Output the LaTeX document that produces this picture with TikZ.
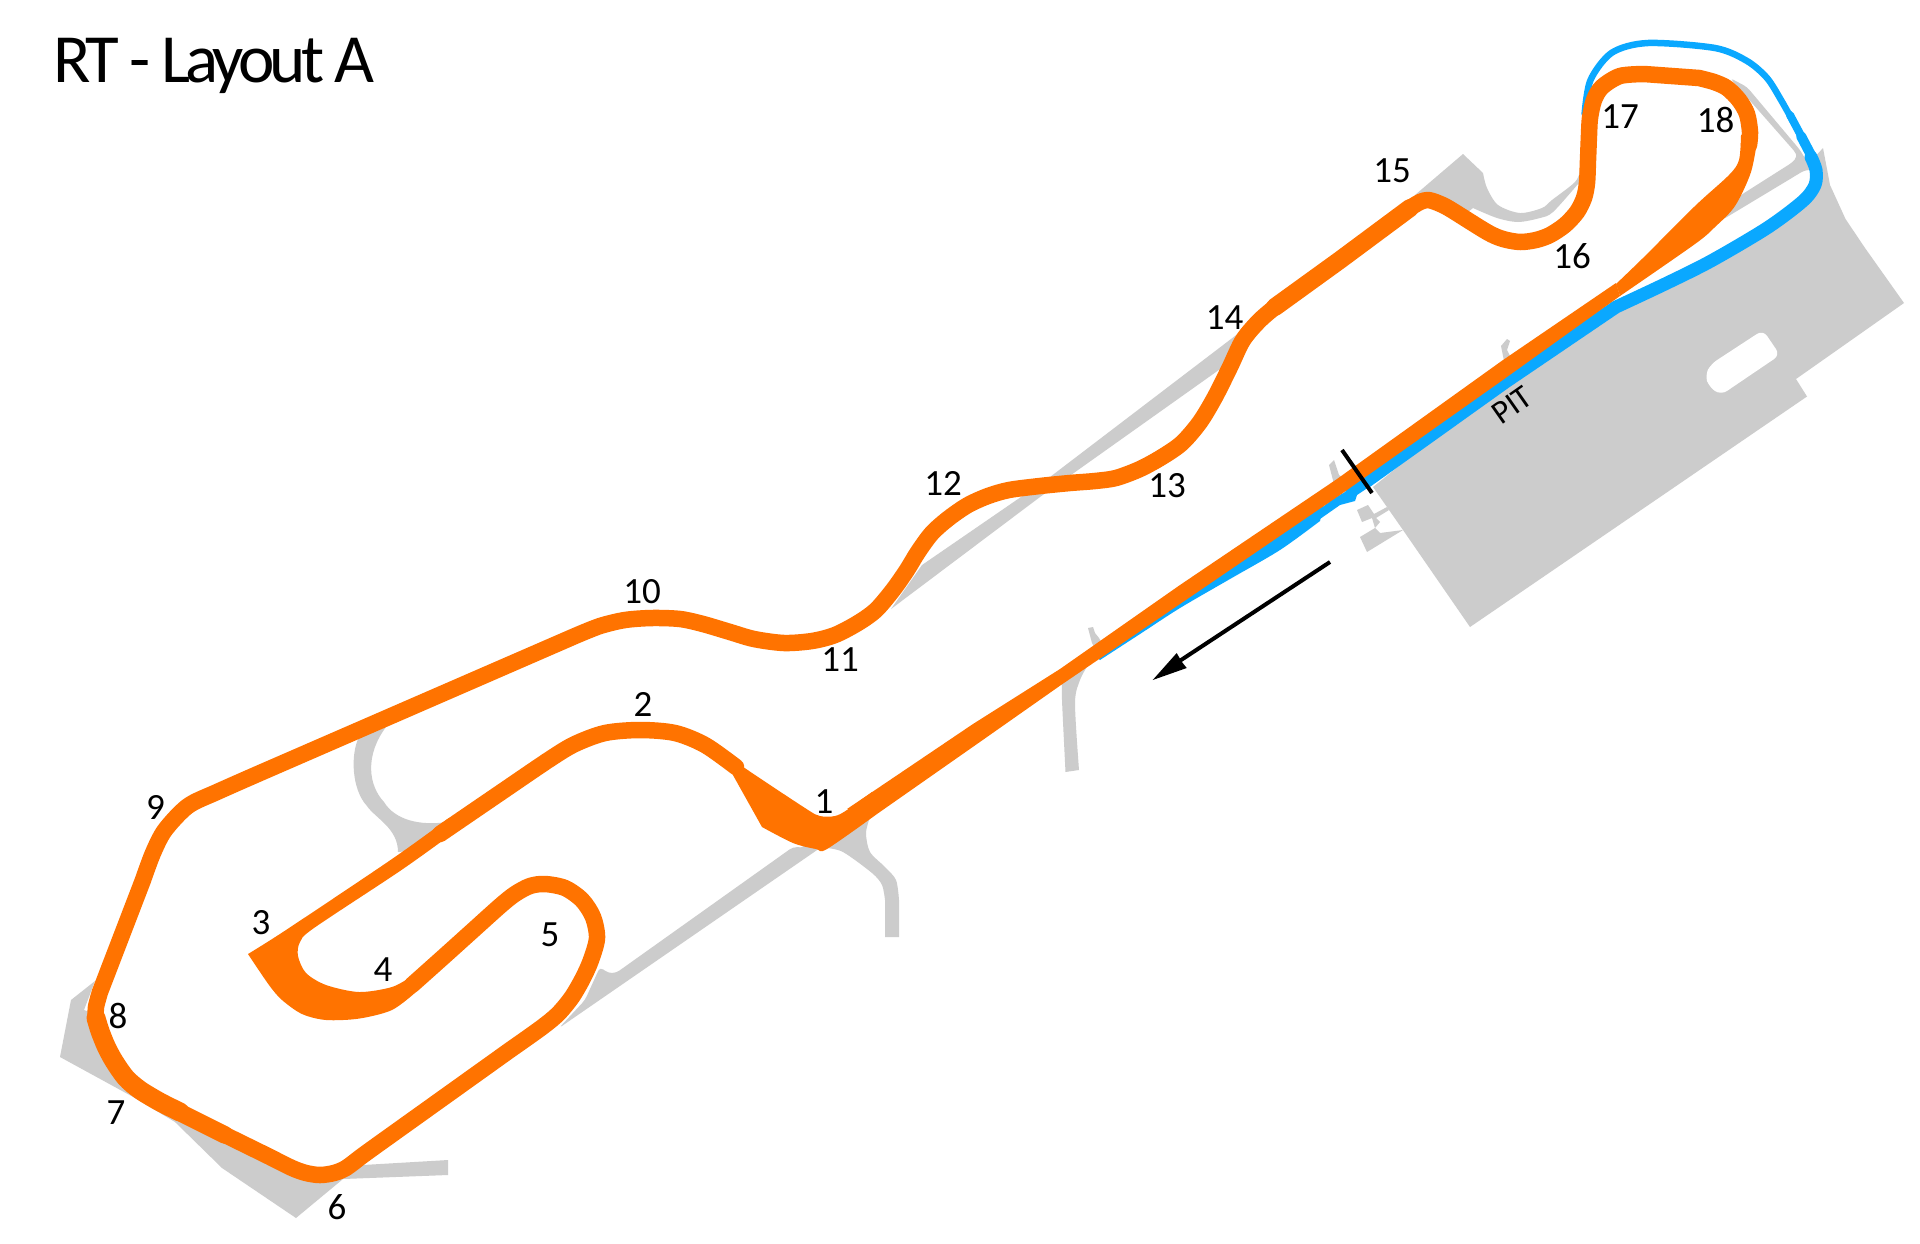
\documentclass[tikz,border=0pt]{standalone}
\usepackage{fontspec}
\setmainfont{Carlito}
\definecolor{trk}{HTML}{FF7300}
\definecolor{pit}{HTML}{0AA8FF}
\definecolor{pad}{HTML}{CCCCCC}
\begin{document}
\begin{tikzpicture}[x=1pt,y=-1pt,
  grey/.style={fill=pad,draw=none},
  roadl/.style={fill=pad,draw=none,rounded corners=4pt},
  orng/.style={draw=trk,line join=round,line cap=round},
  org/.style={fill=trk,draw=none},
  blu/.style={draw=pit,line join=round,line cap=round},
  lab/.style={font=\fontsize{37}{37}\selectfont,inner sep=0pt,text=black,yshift=-1pt}]
\useasboundingbox (0,0) rectangle (1920,1243);
\fill[white] (0,0) rectangle (1920,1243);
% --- grey
\fill[grey] (1373,487) -- (1403,530) -- (1380,533) -- (1375,528) -- (1360,537) -- (1367,552) -- (1403,530) -- (1470,627) -- (1807,396.5) -- (1796,379) -- (1904,303) -- (1865,248) -- (1845.5,219) -- (1830,185) -- (1823,148) -- (1812,160) -- (1817,185) -- (1803,203) -- (1711,261) -- (1616,307) -- (1505,380) -- cycle;
\fill[white,rounded corners=7pt] (1763,330) -- (1780,355) -- (1721,395) -- (1709,387) -- (1705,375) -- (1711,364) -- cycle;
\fill[grey] (1357,510) -- (1368,505) -- (1374,514) -- (1387,507) -- (1389,510) -- (1376,518) -- (1380,522) -- (1375,528) -- (1372,518) -- (1362,522) -- cycle;
\fill[roadl] (1730,78) -- (1747,87) -- (1800,150) -- (1812,170) -- (1805,170) -- (1722,220) -- (1735,200) -- (1741,195) -- (1793,162) -- (1797,157) -- (1796,153) -- (1752,103) -- cycle;
\fill[grey] (1415,195) -- (1463,154) -- (1483,173) -- plot[smooth] coordinates {(1483,173) (1487,188) (1498,205) (1520,213) (1542,208) (1552,200) (1575,182) (1580,170) (1581,155)} -- (1590,155) -- (1585,190) -- plot[smooth] coordinates {(1578,184) (1553,212) (1540,218) (1518,222) (1497,218) (1473,208)} -- (1468,212) -- (1440,210) -- (1426,205) -- cycle;
\fill[grey] (1329,465) -- (1334,460) -- (1339,475) -- (1346,480) -- (1334,484) -- cycle;
\fill[grey] (1501,346) -- (1507,339) -- (1510,341) -- (1507,350) -- (1511,358) -- (1505,366) -- cycle;
% 12-14 chord
\fill[grey] (891,609) -- (922,565) -- (1050,477) -- (1252,323) -- (1252,340) -- (1223,367) -- (1040,497) -- cycle;
% loop road at 9-10 / 2-3
\fill[grey] (359,737) .. controls (350,755) and (352,790) .. (367,806) .. controls (375,818) and (398,828) .. (398,852) -- (420,850) -- (447,822) .. controls (420,826) and (395,820) .. (384,802) .. controls (368,785) and (365,755) .. (386,727) -- cycle;
% road 5 -> 1
\fill[roadl] (585,1000) -- (600,967) -- (608,973) -- (616,973) -- (793,847) -- (820,848) -- (559,1028) -- cycle;
% road at 1
\fill[grey] (800,848) -- (870,812) -- plot[smooth] coordinates {(870,817) (866,833) (870,852) (885,867) (896,880) (899,900)} -- (899,937) -- (885,937) -- plot[smooth] coordinates {(885,900) (882,885) (872,873) (843,852) (826,848)} -- cycle;
% road 5 at straight
\fill[grey] plot[smooth] coordinates {(1062,680) (1062,700) (1065.5,772)} -- (1079,770) -- plot[smooth] coordinates {(1079,770) (1075,703) (1080,680) (1088,665)} -- cycle;
\fill[grey] (1097,652) -- (1092,643) -- (1088,628) -- (1093,627) -- (1095,633) -- (1099,638) -- (1106,650) -- cycle;
% bottom left
\fill[grey] (95,981) -- (71,1000) -- (60,1057) -- (135,1098) -- (175,1122) -- (222,1168) -- (296,1218) -- (343,1179) -- (448,1175) -- (448,1160) -- (363,1165) -- (340,1165) -- (300,1172) -- (155,1100) -- (126,1078) -- (106,1046) -- (95,1014) -- (84,1010) -- cycle;
% --- blue
\draw[blu,line width=6.5pt] plot[smooth] coordinates {(1584.6,114) (1590.5,80) (1612,52.6) (1648,43) (1715,48) (1747,61) (1767,78) (1781,100) (1795,125)};
\draw[blu,line width=8pt] (1790,115) -- (1806,145);
\draw[blu,line width=10pt] (1801,136) -- (1812,157);
\draw[blu,line width=13pt] plot[smooth] coordinates {(1811,157) (1816,170) (1815,185) (1803,201) (1767,228) (1711,261) (1665,284) (1616,307)} -- (1505.5,382) -- (1367,481);
\fill[pit] (1320,519) -- (1340,505) -- (1355,501) -- (1357,495) -- (1372,485) -- (1360,470) -- (1345,492) -- (1333,499) -- (1320,509) -- cycle;
\fill[pit] (1325,500) -- plot[smooth] coordinates {(1320,521) (1280,550) (1230,579) (1180,608) (1140,634) (1100,660)} -- (1094,655) -- cycle;
% --- orange
\fill[org] (1616,283) -- (1501.6,361) -- (1337,479) -- (1180,585) -- (1060,669) -- (973,724) -- (847,809) -- (877,814) -- (977,744) -- (1061,685) -- (1180,604) -- (1340,495) -- (1500,382) -- (1620,296) -- cycle;
\fill[org] plot[smooth] coordinates {(716,745) (736,762) (805,808) (820,816) (835,816) (847,810) (872,792)} -- plot[smooth] coordinates {(877,814) (827,849) (816,849) (793,843) (762,827)} -- (729,768) -- cycle;
\draw[orng,line width=16.5pt] plot[smooth] coordinates {(440,834) (500,793) (550,759) (575,744) (605,733) (640,730) (675,733) (705,745) (736,767)};
\fill[org] plot[smooth] coordinates {(449,818) (392,859) (286,930) (248,954)} -- plot[smooth] coordinates {(248,954) (269,985) (282,1000) (302,1014) (326,1020) (359,1018.6) (392,1010) (416,992)} -- plot[smooth] coordinates {(412,976) (392,987) (359,992) (326,985) (306,973) (298,956) (300,942) (314,928) (400,871) (449,836)} -- cycle;
\draw[orng,line width=16.5pt] plot[smooth] coordinates {(412,985) (440,960) (470,933) (500,906) (515,894) (530,886) (545,884) (565,888) (582,900) (593,917) (597,938) (591,960) (583,978) (572,997) (558,1014) (541,1028) (510,1050)} -- (380,1143) -- plot[smooth] coordinates {(380,1143) (362,1156) (346,1168) (334,1173) (320,1175) (306,1173) (292,1168) (270,1157)} -- (215,1130);
\draw[orng,line width=17.5pt] (225,1135) -- (175,1110);
\draw[orng,line width=19pt] plot[smooth] coordinates {(180,1112) (160,1102) (140,1090) (126,1078) (114,1061) (106,1046) (100,1031) (96,1018)};
\draw[orng,line width=16.5pt] plot[smooth] coordinates {(100,1034) (96,1018) (96,1007) (100,992)} -- (143,880) -- plot[smooth] coordinates {(143,880) (153,853) (165,830) (188,806) (217,792) (260,773)} -- (575,636) -- plot[smooth] coordinates {(575,636) (600,626) (625,620) (652,618) (680,619) (703,624) (730,632) (754,639) (784,643) (812,641) (835,635) (858,623) (876,610) (893,590) (907,570) (918,552) (932,533) (949,518) (968,505) (988,496) (1009,490) (1040,486) (1070,483) (1095,481) (1116,478) (1140,469) (1162,457) (1182,443) (1200,422) (1215,397) (1230,367) (1243,340) (1260,320) (1280,303)};
\draw[orng,line width=18pt] (1275,307) -- (1340,260) -- (1410,208);
\draw[orng,line width=16.5pt] plot[smooth] coordinates {(1410,208) (1420,202) (1428,200) (1438,203) (1450,209) (1487,232) (1503,239) (1520,242) (1536,240) (1550,235) (1565,225) (1577,212) (1584,198) (1587,183) (1588,160) (1589,135) (1590,118) (1594,100) (1602,87) (1620,76) (1644,74)} -- (1699,78) -- plot[smooth] coordinates {(1699,78) (1714,82) (1727,88) (1739,100) (1747,114) (1750,132) (1749,145)};
\fill[org] plot[smooth] coordinates {(1741,135) (1739,160) (1729,175) (1695,206) (1644,257) (1616,284)} -- plot[smooth] coordinates {(1620,296) (1695,244) (1715,227) (1735,206) (1751,172) (1758,135)} -- cycle;
% --- start line and arrow
\coordinate (sa) at (1342,450); \coordinate (sb) at (1372,493);
\draw[black,line width=4pt] (sa) -- (sb);
\coordinate (aa) at (1330,562); \coordinate (ab) at (1175,664);
\draw[black,line width=4pt] (aa) -- (ab);
\fill[black] (1152.7,680) -- (1176.7,653) -- (1181.7,661.7) -- (1186.7,668) -- cycle;
% --- labels
\node[lab] (n1) at (824,801) {1};
\node[lab] (n2) at (643,703) {2};
\node[lab] (n3) at (261,922) {3};
\node[lab] (n4) at (383,969) {4};
\node[lab] (n5) at (550,934) {5};
\node[lab] (n6) at (337,1206) {6};
\node[lab] (n7) at (116,1112) {7};
\node[lab] (n8) at (118,1015) {8};
\node[lab] (n9) at (155.5,806) {9};
\node[lab] (n10) at (642,591) {10};
\node[lab] (n11) at (840,659) {11};
\node[lab] (n12) at (943,482) {12};
\node[lab] (n13) at (1167,485) {13};
\node[lab] (n14) at (1224.5,317) {14};
\node[lab] (n15) at (1392,170) {15};
\node[lab] (n16) at (1572,255) {16};
\node[lab] (n17) at (1620,116) {17};
\node[lab] (n18) at (1715.5,119) {18};
\node[inner sep=0pt,rotate=35,font=\fontsize{33}{33}\selectfont] (pitt) at (1512,405) {PIT};
\node[anchor=base west,inner sep=0pt,font=\fontsize{69}{69}\selectfont\addfontfeature{LetterSpace=-7}] (title) at (53,82) {RT - Layout A};
\end{tikzpicture}
\end{document}
